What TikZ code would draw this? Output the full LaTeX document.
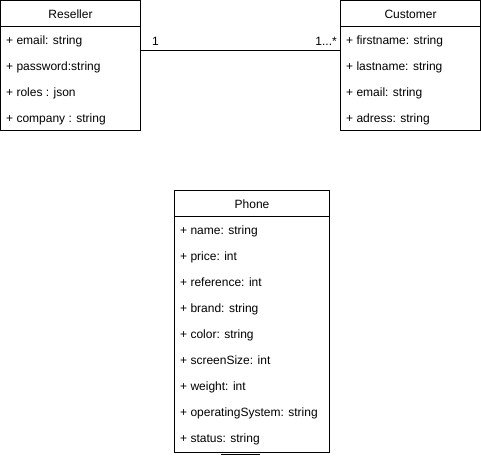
\documentclass[tikz,border=0pt]{standalone}
\usepackage{fontspec}
\setmainfont{Liberation Sans}
\begin{document}
\begin{tikzpicture}[x=1pt,y=-1pt,
  box/.style={draw=black,line width=1pt,fill=white,anchor=north west,inner sep=0pt,outer sep=0pt},
  head/.style={font=\fontsize{12}{14}\selectfont,anchor=base,inner sep=0pt},
  attr/.style={font=\fontsize{12}{14}\selectfont,anchor=base west,inner sep=0pt},
  mult/.style={font=\fontsize{12}{14}\selectfont,inner sep=0pt},
  conn/.style={draw=black,line width=1pt}]
\useasboundingbox (0,0) rectangle (481,459);
% Reseller
\node[box,minimum width=140pt,minimum height=130pt] (reseller) at (0.5,0.5) {};
\draw[conn] (0.5,26) -- (140.5,26);
\node[head] (rH) at (70.5,18) {Reseller};
\node[attr] (r1) at (6,44.5) {+ email: string};
\node[attr] (r2) at (6,70.5) {+ password:string};
\node[attr] (r3) at (6,96.5) {+ roles : json};
\node[attr] (r4) at (6,122.5) {+ company : string};
% Customer
\node[box,minimum width=140pt,minimum height=130pt] (customer) at (340.5,0.5) {};
\draw[conn] (340.5,26) -- (480.5,26);
\node[head] (cH) at (410.5,18) {Customer};
\node[attr] (c1) at (346,44.5) {+ firstname: string};
\node[attr] (c2) at (346,70.5) {+ lastname: string};
\node[attr] (c3) at (346,96.5) {+ email: string};
\node[attr] (c4) at (346,122.5) {+ adress: string};
% Phone
\node[box,minimum width=155pt,minimum height=262pt] (phone) at (174.5,190.5) {};
\draw[conn] (174.5,216.5) -- (329.5,216.5);
\node[head] (pH) at (252,208) {Phone};
\node[attr] (p1) at (180,234.5) {+ name: string};
\node[attr] (p2) at (180,260.5) {+ price: int};
\node[attr] (p3) at (180,286.5) {+ reference: int};
\node[attr] (p4) at (180,312.5) {+ brand: string};
\node[attr] (p5) at (180,338.5) {+ color: string};
\node[attr] (p6) at (180,364.5) {+ screenSize: int};
\node[attr] (p7) at (180,390.5) {+ weight: int};
\node[attr] (p8) at (180,416.5) {+ operatingSystem: string};
\node[attr] (p9) at (180,442.5) {+ status: string};
% association
\draw[conn] (reseller.east |- 0,50) -- (customer.west |- 0,50);
\node[mult,anchor=base west] (m1) at (152,45.5) {1};
\node[mult,anchor=base east] (m2) at (337,45.5) {1...*};
% small line below Phone
\draw[conn] (221,454.5) -- (260,454.5);
\end{tikzpicture}
\end{document}
